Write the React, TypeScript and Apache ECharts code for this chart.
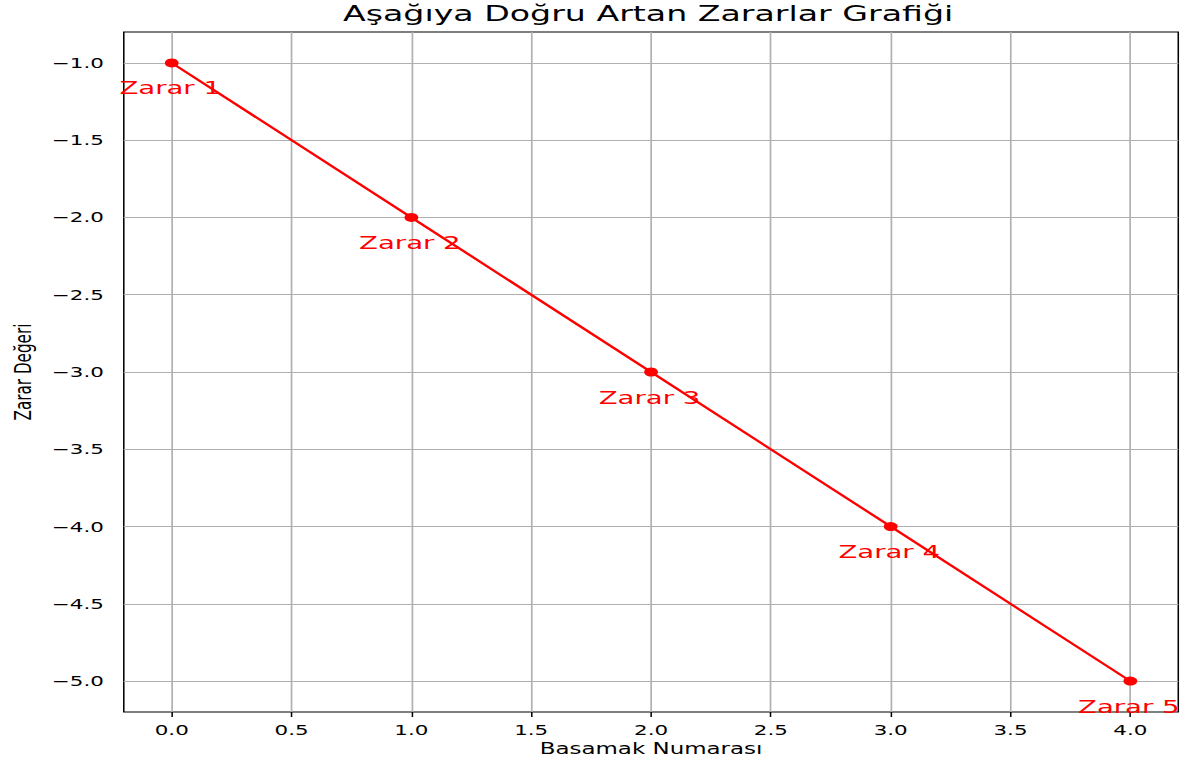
import React, { useEffect, useRef } from "react";
import * as echarts from "echarts";

const steps = [0, 1, 2, 3, 4];
const losses = [-1, -2, -3, -4, -5];
const pointLabels = ["Zarar 1", "Zarar 2", "Zarar 3", "Zarar 4", "Zarar 5"];
const xTicks = [0, 0.5, 1, 1.5, 2, 2.5, 3, 3.5, 4];
const yTicks = [-1, -1.5, -2, -2.5, -3, -3.5, -4, -4.5, -5];
const titleText = "Aşağıya Doğru Artan Zararlar Grafiği";
const xName = "Basamak Numarası";
const yName = "Zarar Değeri";

const W = 1186;
const H = 765;
const S = 1.5303;
const IW = W / S;

const fmt = (v: number) => v.toFixed(1).replace("-", "\u2212");
const FONT = "DejaVu Sans";

export default function App() {
  const ref = useRef<HTMLDivElement>(null);
  useEffect(() => {
    if (!ref.current) return;
    const chart = echarts.init(ref.current, null, { renderer: "svg" });
    const data = steps.map((s, i) => [s, losses[i]]);
    chart.setOption({
      animation: false,
      backgroundColor: "#fff",
      title: {
        text: titleText,
        left: 343 / S,
        top: 3,
        padding: 0,
        textStyle: { fontFamily: FONT, fontSize: 21.7, fontWeight: "normal", color: "#000" },
      },
      grid: {
        left: 120 / S,
        right: IW - 1178.3 / S,
        top: 32,
        bottom: H - 712,
        show: true,
        borderColor: "#000",
        borderWidth: 1,
        containLabel: false,
      },
      xAxis: {
        type: "value",
        min: -0.2,
        max: 4.2,
        name: xName,
        nameLocation: "middle",
        nameGap: 28,
        nameTextStyle: { fontFamily: FONT, fontSize: 15, color: "#000" },
        axisLine: { show: false },
        axisTick: { show: true, length: 5, customValues: xTicks, lineStyle: { color: "#000" } },
        axisLabel: {
          customValues: xTicks,
          formatter: (v: number) => fmt(v),
          fontFamily: FONT,
          fontSize: 14,
          color: "#000",
          margin: 11,
        },
        splitLine: { show: false },
      },
      yAxis: {
        type: "value",
        min: -5.2,
        max: -0.8,
        name: yName,
        nameLocation: "middle",
        nameGap: 52,
        nameTextStyle: { fontFamily: FONT, fontSize: 15.2, color: "#000" },
        axisLine: { show: false },
        axisTick: { show: true, length: 5, customValues: yTicks, lineStyle: { color: "#000" } },
        axisLabel: {
          customValues: yTicks,
          formatter: (v: number) => fmt(v),
          fontFamily: FONT,
          fontSize: 14,
          color: "#000",
          margin: 13,
        },
        splitLine: { show: false },
      },
      series: [
        {
          type: "line",
          data: [],
          z: 1,
          silent: true,
          markLine: {
            silent: true,
            z: 1,
            symbol: "none",
            label: { show: false },
            lineStyle: { color: "#b0b0b0", width: 1.1, type: "solid" },
            data: [
              ...xTicks.map((v) => ({ xAxis: v })),
              ...yTicks.map((v) => ({ yAxis: v })),
            ],
          },
        },
        {
          type: "line",
          z: 3,
          data,
          symbol: "circle",
          symbolSize: 9,
          itemStyle: { color: "#ff0000" },
          lineStyle: { color: "#ff0000", width: 2 },
          label: {
            show: true,
            position: "inside",
            offset: [-1, 25],
            formatter: (p: any) => pointLabels[p.dataIndex],
            fontFamily: FONT,
            fontSize: 18,
            color: "#ff0000",
          },
        },
      ],
    });
    return () => chart.dispose();
  }, []);
  return (
    <div
      style={{
        position: "fixed",
        left: 0,
        top: 0,
        width: W,
        height: H,
        overflow: "hidden",
        background: "#fff",
      }}
    >
      <div
        ref={ref}
        style={{
          width: IW,
          height: H,
          transform: `scaleX(${S})`,
          transformOrigin: "0 0",
        }}
      />
    </div>
  );
}
